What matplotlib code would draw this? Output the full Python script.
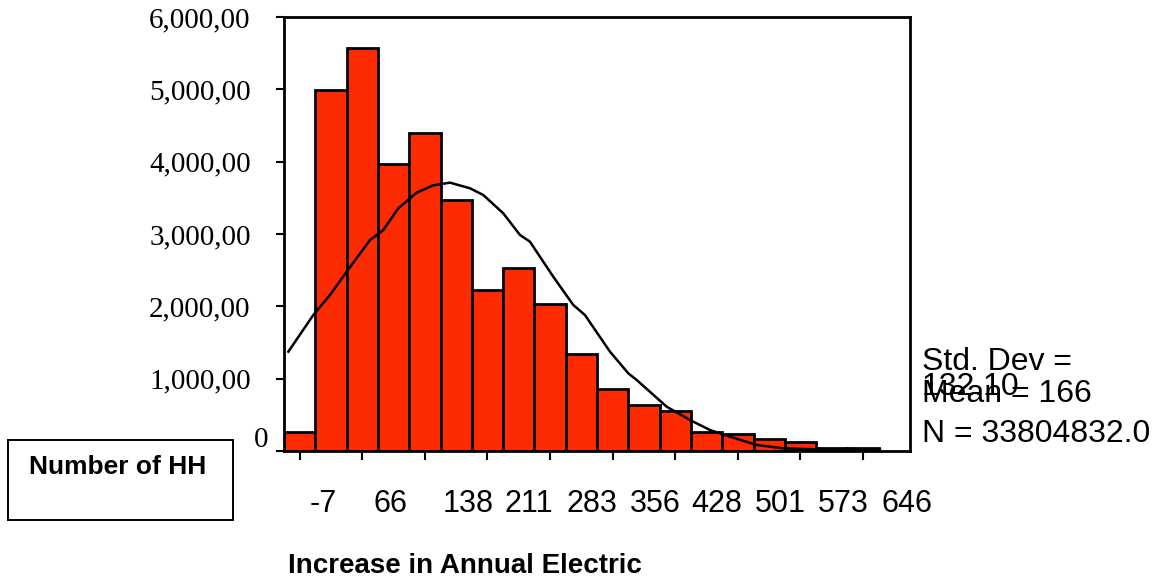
import matplotlib
matplotlib.use('Agg')
import matplotlib.pyplot as plt
from matplotlib.patches import Rectangle

W, H = 1154, 581   # output size in pixels

# histogram bins
bin_start = -25.125
bin_width = 36.25
counts = [259, 4985, 5570, 3965, 4398, 3476, 2227, 2527, 2033, 1342,
          857, 636, 557, 259, 231, 162, 124, 46, 37]

# fitted normal curve
curve_x = [-20.1, 8.8, 28.1, 47.5, 74.5, 89.9, 107.2, 128.5, 147.8, 167.1,
           190.3, 205.7, 228.8, 248.2, 259.7, 286.7, 309.9, 323.4, 352.4,
           373.6, 383.3, 418.0, 445.0, 468.2, 491.3, 522.3, 553.1, 591.7, 665.1]
curve_y = [1373, 1880, 2157, 2479, 2917, 3055, 3355, 3571, 3673, 3710,
           3632, 3539, 3286, 2986, 2894, 2410, 2019, 1880, 1373,
           1074, 982, 613, 429, 290, 198, 83, 37, 23, 14]

x_ticks = [-7, 65.5, 138, 210.5, 283, 355.5, 428, 500.5, 573, 645.5]
x_labels = ['-7', '66', '138', '211', '283', '356', '428', '501', '573', '646']
x_label_shift = [24, 28, 43, 41, 42, 43, 41, 42, 43, 44]   # px, labels sit right of ticks
y_ticks = [1000, 2000, 3000, 4000, 5000, 6000]
y_labels = ['1,000,00', '2,000,00', '3,000,00', '4,000,00', '5,000,00', '6,000,00']

stats_lines = ['Std. Dev =', '132.10', 'Mean = 166', 'N = 33804832.0']

bar_color = '#ff2b00'

fig = plt.figure(figsize=(W / 100, H / 100), dpi=100)
ax = fig.add_axes([284 / W, 1 - 451 / H, (910 - 284) / W, (451 - 17) / H])

lefts = [bin_start + i * bin_width for i in range(len(counts))]
ax.bar(lefts, counts, width=bin_width, align='edge', color=bar_color,
       edgecolor='black', linewidth=2)
ax.plot(curve_x, curve_y, color='black', linewidth=1.8)

ax.set_xlim(bin_start, bin_start + 20 * bin_width)
ax.set_ylim(0, 6000)

for s in ax.spines.values():
    s.set_linewidth(2)

ax.set_xticks(x_ticks)
ax.set_xticklabels([])
ax.tick_params(axis='x', direction='out', length=6.5, width=1.5)
for t, lab, dx in zip(x_ticks, x_labels, x_label_shift):
    ax.annotate(lab, xy=(t, 0), xycoords=('data', 'axes fraction'),
                xytext=(dx * 0.72, -61 * 0.72), textcoords='offset points',
                ha='center', va='baseline', fontsize=22,
                family='Liberation Sans')

ax.set_yticks([0] + y_ticks)
ax.set_yticklabels([''] + y_labels, family='Liberation Serif', fontsize=21)
ax.tick_params(axis='y', direction='out', length=6, width=1.5, pad=18)
# the zero label sits higher and closer to the axis than the others
ax.annotate('0', xy=(0, 0), xycoords='axes fraction',
            xytext=(-16 * 0.72, 14 * 0.72), textcoords='offset points',
            ha='right', va='center_baseline', fontsize=21,
            family='Liberation Serif')

# stats block on the right (the SD value overlaps the mean line, as in the source)
fig.text(922 / W, 1 - 370 / H, stats_lines[0], fontsize=23,
         family='Liberation Sans', va='baseline')
fig.text(922 / W, 1 - 395 / H, stats_lines[1], fontsize=23,
         family='Liberation Sans', va='baseline')
fig.text(922 / W, 1 - 402 / H, stats_lines[2], fontsize=23,
         family='Liberation Sans', va='baseline')
fig.text(922 / W, 1 - 442 / H, stats_lines[3], fontsize=23,
         family='Liberation Sans', va='baseline')

# y label in a box on the lower left
fig.patches.append(Rectangle((8 / W, 1 - 520 / H), 225 / W, 80 / H,
                             transform=fig.transFigure, fill=False,
                             edgecolor='black', linewidth=1.4))
fig.text(118 / W, 1 - 474 / H, 'Number of HH', fontsize=19, fontweight='bold',
         family='Liberation Sans', ha='center', va='baseline')

fig.text(465 / W, 1 - 573 / H, 'Increase in Annual Electric', fontsize=20,
         fontweight='bold', family='Liberation Sans', ha='center', va='baseline')

fig.savefig('out.png', dpi=100)
